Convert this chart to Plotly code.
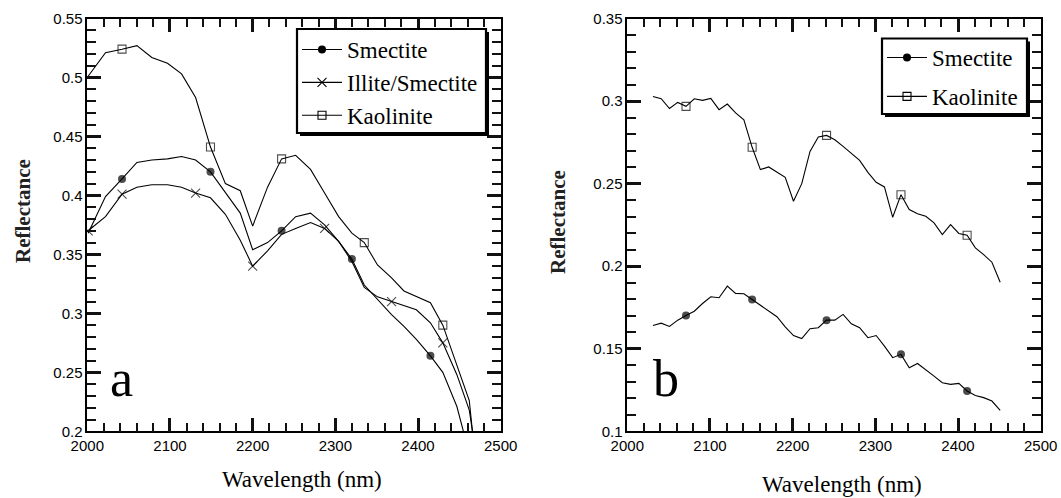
import plotly.graph_objects as go

# ---------------- Panel a data ----------------
wl_a = [2001, 2022, 2042, 2060, 2078, 2097, 2114, 2131, 2149, 2167, 2185, 2200,
        2218, 2235, 2252, 2270, 2287, 2304, 2320, 2335, 2351, 2368, 2383, 2398,
        2415, 2430, 2447, 2462, 2468]
smectite_a = [0.368, 0.399, 0.414, 0.428, 0.430, 0.431, 0.433, 0.430, 0.420, 0.402,
              0.385, 0.354, 0.360, 0.370, 0.382, 0.385, 0.375, 0.361, 0.346, 0.324,
              0.312, 0.299, 0.289, 0.278, 0.264, 0.250, 0.221, 0.182, 0.165]
illite_a = [0.370, 0.382, 0.401, 0.407, 0.409, 0.409, 0.407, 0.402, 0.398, 0.384,
            0.362, 0.340, 0.353, 0.367, 0.372, 0.377, 0.372, 0.361, 0.344, 0.322,
            0.314, 0.310, 0.307, 0.303, 0.292, 0.275, 0.248, 0.218, 0.190]
kaolinite_a = [0.501, 0.521, 0.524, 0.527, 0.517, 0.512, 0.503, 0.483, 0.441, 0.410,
               0.404, 0.374, 0.407, 0.431, 0.434, 0.422, 0.402, 0.382, 0.368, 0.360,
               0.341, 0.330, 0.319, 0.314, 0.309, 0.290, 0.255, 0.226, 0.185]
smectite_a_marked = [2, 8, 13, 18, 24]
illite_a_marked = [0, 2, 7, 11, 16, 21, 25]
kaolinite_a_marked = [2, 8, 13, 19, 25]

# ---------------- Panel b data ----------------
wl_b = [2031, 2041, 2051, 2061, 2071, 2081, 2091, 2101, 2111, 2121, 2131, 2141,
        2151, 2161, 2171, 2181, 2191, 2201, 2211, 2221, 2231, 2241, 2251, 2261,
        2271, 2281, 2291, 2301, 2311, 2321, 2331, 2341, 2351, 2361, 2371, 2381,
        2391, 2401, 2411, 2421, 2431, 2441, 2451]
smectite_b = [0.1641, 0.1655, 0.1635, 0.1673, 0.1701, 0.1727, 0.1774, 0.1815, 0.1809,
              0.1879, 0.1835, 0.1833, 0.1798, 0.1762, 0.1727, 0.1694, 0.1633, 0.1580,
              0.1562, 0.1621, 0.1627, 0.1673, 0.1673, 0.1708, 0.1651, 0.1627, 0.1567,
              0.1580, 0.1516, 0.1446, 0.1466, 0.1385, 0.1411, 0.1375, 0.1334, 0.1294,
              0.1284, 0.1290, 0.1244, 0.1217, 0.1204, 0.1183, 0.1127]
kaolinite_b = [0.3028, 0.3014, 0.2955, 0.2992, 0.2968, 0.3014, 0.3004, 0.3016, 0.2948,
               0.2982, 0.2928, 0.2887, 0.2720, 0.2585, 0.2601, 0.2568, 0.2538, 0.2393,
               0.2500, 0.2695, 0.2783, 0.2792, 0.2766, 0.2726, 0.2686, 0.2641, 0.2568,
               0.2508, 0.2480, 0.2296, 0.2433, 0.2343, 0.2317, 0.2302, 0.2262, 0.2191,
               0.2252, 0.2198, 0.2187, 0.2111, 0.2070, 0.2024, 0.1903]
smectite_b_marked = [4, 12, 21, 30, 38]
kaolinite_b_marked = [4, 12, 21, 30, 38]

x_range = [2000, 2500]
ya_range = [0.2, 0.55]
yb_range = [0.1, 0.35]

SERIF = "Liberation Serif"
SANS = "Liberation Sans"

STYLES = {
    "Smectite": dict(symbol="circle", size=8, color="black", line=dict(width=0, color="black")),
    "Illite/Smectite": dict(symbol="x-thin-open", size=9, color="black", line=dict(width=1.1, color="black")),
    "Kaolinite": dict(symbol="square-open", size=8, color="black", line=dict(width=1.1, color="black")),
}

fig = go.Figure()


def add_series(name, x, y, marked, xa, ya, legend):
    st = STYLES[name]
    sizes = [st["size"] if i in marked else 0 for i in range(len(x))]
    fig.add_trace(go.Scatter(
        x=x, y=y, mode="lines+markers", name=name, showlegend=False,
        line=dict(color="black", width=1.1),
        marker=dict(symbol=st["symbol"], size=sizes, color=st["color"], line=st["line"]),
        xaxis=xa, yaxis=ya,
    ))
    # legend proxy (no data)
    fig.add_trace(go.Scatter(
        x=[None], y=[None], mode="lines+markers", name=name, showlegend=True,
        legend=legend, legendgroup=legend + name,
        line=dict(color="black", width=1.1),
        marker=dict(symbol=st["symbol"], size=st["size"], color=st["color"], line=st["line"]),
        xaxis=xa, yaxis=ya,
    ))


add_series("Smectite", wl_a, smectite_a, smectite_a_marked, "x", "y", "legend")
add_series("Illite/Smectite", wl_a, illite_a, illite_a_marked, "x", "y", "legend")
add_series("Kaolinite", wl_a, kaolinite_a, kaolinite_a_marked, "x", "y", "legend")
add_series("Smectite", wl_b, smectite_b, smectite_b_marked, "x2", "y2", "legend2")
add_series("Kaolinite", wl_b, kaolinite_b, kaolinite_b_marked, "x2", "y2", "legend2")

W, H = 1061, 498


def px(x):
    return x / W


def py(y):
    return 1 - y / H


L1, R1, L2, R2, TOP, BOT = 87.3, 500.7, 627.3, 1040.7, 18.5, 431.3
tickfont = dict(family=SANS, size=15, color="black")
base = dict(showgrid=False, zeroline=False, automargin=False, tickfont=tickfont,
            showline=True, linecolor="black", linewidth=1.5, mirror="allticks",
            ticks="inside", ticklen=14, tickwidth=2.5, tickcolor="#111111", tickmode="linear")
minor_x = dict(ticks="inside", ticklen=9, tickwidth=2, tickcolor="#111111", dtick=20)
minor_y = dict(ticks="inside", ticklen=9, tickwidth=2, tickcolor="#111111", dtick=0.01)

fig.update_layout(
    template="none",
    width=W, height=H,
    margin=dict(l=0, r=0, t=0, b=0),
    paper_bgcolor="white", plot_bgcolor="rgba(0,0,0,0)",
    xaxis=dict(base, domain=[px(L1), px(R1)], anchor="y", range=x_range,
               tick0=2000, dtick=100, minor=minor_x),
    yaxis=dict(base, domain=[py(BOT), py(TOP)], anchor="x", range=ya_range,
               tick0=0.2, dtick=0.05, minor=minor_y),
    xaxis2=dict(base, domain=[px(L2), px(R2)], anchor="y2", range=x_range,
                tick0=2000, dtick=100, minor=minor_x),
    yaxis2=dict(base, domain=[py(BOT), py(TOP)], anchor="x2", range=yb_range,
                tick0=0.1, dtick=0.05, minor=minor_y),
    legend=dict(x=px(297), y=py(28), xanchor="left", yanchor="top",
                bgcolor="rgba(0,0,0,0)", borderwidth=0,
                font=dict(family=SERIF, size=23, color="black"),
                tracegroupgap=0, itemwidth=40),
    legend2=dict(x=px(882), y=py(36), xanchor="left", yanchor="top",
                 bgcolor="rgba(0,0,0,0)", borderwidth=0,
                 font=dict(family=SERIF, size=23, color="black"),
                 tracegroupgap=6, itemwidth=40),
    showlegend=True,
)

annots = [
    dict(text="<b>Reflectance</b>", x=px(23), y=py(211), textangle=-90,
         font=dict(family=SERIF, size=21, color="#222")),
    dict(text="<b>Reflectance</b>", x=px(558), y=py(222), textangle=-90,
         font=dict(family=SERIF, size=21, color="#222")),
    dict(text="Wavelength (nm)", x=px(301.7), y=py(479),
         font=dict(family=SERIF, size=23, color="black")),
    dict(text="Wavelength (nm)", x=px(842), y=py(484),
         font=dict(family=SERIF, size=23, color="black")),
    dict(text="a", x=px(121), y=py(378), font=dict(family=SERIF, size=52, color="black")),
    dict(text="b", x=px(666), y=py(378), font=dict(family=SERIF, size=52, color="black")),
]
for a in annots:
    a.update(xref="paper", yref="paper", showarrow=False, xanchor="center", yanchor="middle")
fig.update_layout(annotations=annots)

# legend boxes with drop shadows
for (x0, y0, x1, y1) in [(297, 29, 486, 133), (882, 38.5, 1027, 114)]:
    fig.add_shape(type="rect", xref="paper", yref="paper", opacity=1,
                  x0=px(x0 + 3), x1=px(x1 + 3), y0=py(y1 + 3), y1=py(y0 + 3),
                  fillcolor="black", line=dict(width=0), layer="above")
    fig.add_shape(type="rect", xref="paper", yref="paper", opacity=1,
                  x0=px(x0), x1=px(x1), y0=py(y1), y1=py(y0),
                  fillcolor="white", line=dict(width=2.2, color="black"), layer="above")

fig.write_html("out.html", config={"displayModeBar": False},
               post_script="document.body.style.margin='0px';")
